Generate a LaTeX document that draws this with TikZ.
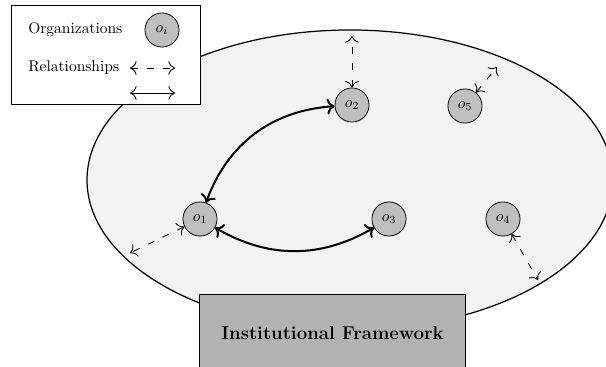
\documentclass[tikz,border=0pt]{standalone}
\usetikzlibrary{arrows.meta}
\begin{document}
\begin{tikzpicture}[x=0.645pt, y=-0.645pt,
  org/.style={circle, draw, fill=black!25, minimum size=22pt, inner sep=0pt, line width=0.5pt},
  rel/.style={{To[scale=1.5]}-{To[scale=1.5]}, dash pattern=on 4.5pt off 6pt, line width=0.55pt},
  tie/.style={{To[scale=1.1]}-{To[scale=1.1]}, line width=1.3pt},
  frame/.style={draw, fill=black!30, line width=0.6pt, minimum width=171pt, minimum height=50pt}]
\useasboundingbox (0,0) rectangle (606,367);
\begin{scope}
\clip (0,0) rectangle (606,367);
% the environment of the organizations
\draw[fill=black!5, line width=0.8pt] (350,180) ellipse [x radius=263, y radius=150];

% organizations
\node[org] (o1) at (200,219) {$o_1$};
\node[org] (o2) at (352,105) {$o_2$};
\node[org] (o3) at (389,219) {$o_3$};
\node[org] (o4) at (503,219) {$o_4$};
\node[org] (o5) at (465,106) {$o_5$};

% loose ends of the outward relationships
\coordinate (e2) at (352,36);
\coordinate (e5) at (497,67);
\coordinate (e4) at (538,280);
\coordinate (e1) at (130,253);

\draw[rel] (o2) -- (e2);
\draw[rel] (o5) -- (e5);
\draw[rel] (o4) -- (e4);
\draw[rel] (o1) -- (e1);

% strong ties
\draw[tie] (o1) to[bend left=33] (o2);
\draw[tie] (o1) to[bend right=30] (o3);

% the framework
\node[frame, font=\large\bfseries] (inst) at (332.5,333) {Institutional Framework};

% legend
\draw[fill=white, line width=0.6pt] (11.5,5) rectangle (200,104);
\node[anchor=west, inner sep=0pt] (lorg) at (28,30) {Organizations};
\node[org] (lo) at (162,30) {$o_i$};
\node[anchor=west, inner sep=0pt] (lrel) at (28,68) {Relationships};
\coordinate (la) at (130,68);
\coordinate (lb) at (175,68);
\coordinate (lc) at (130,93);
\coordinate (ld) at (175,93);
\draw[rel] (la) -- (lb);
\draw[{To[scale=1.5]}-{To[scale=1.5]}, line width=0.55pt] (lc) -- (ld);
\end{scope}
\end{tikzpicture}
\end{document}
